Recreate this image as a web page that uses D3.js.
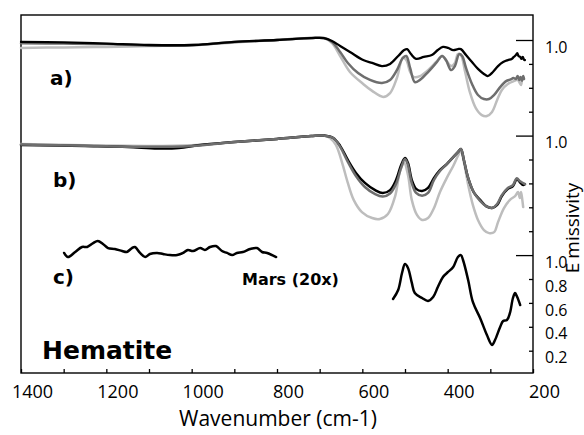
<!DOCTYPE html>
<html><head><meta charset="utf-8">
<script src="https://cdn.jsdelivr.net/npm/d3@7"></script>
<style>body{margin:0;background:#fff}svg{display:block}</style>
</head><body>
<script>
// ---- data: [wavenumber (cm-1), emissivity] ----
const aBlack = [[1400,0.992],[1300,0.990],[1200,0.985],[1100,0.979],[1000,0.979],[950,0.985],[900,0.992],[800,1.0],[720,1.008],[690,1.008],[671,0.996],[652,0.975],[629,0.950],[598,0.916],[577,0.904],[554,0.891],[535,0.900],[516,0.933],[502,0.958],[495,0.962],[486,0.941],[474,0.921],[456,0.929],[437,0.937],[423,0.958],[411,0.971],[399,0.967],[387,0.958],[376,0.962],[369,0.962],[357,0.937],[343,0.908],[329,0.879],[315,0.858],[306,0.849],[294,0.866],[282,0.891],[270,0.908],[259,0.916],[250,0.921],[245,0.929],[240,0.937],[237,0.945],[234,0.933],[230,0.929],[227,0.921],[224,0.929],[221,0.918],[219,0.916]];
const aDark = [[1400,0.986],[1300,0.985],[1200,0.983],[1100,0.977],[1000,0.978],[900,0.992],[800,1.0],[720,1.008],[690,1.008],[671,0.992],[652,0.950],[634,0.904],[610,0.862],[582,0.833],[554,0.820],[535,0.833],[519,0.874],[505,0.925],[497,0.933],[488,0.883],[477,0.824],[465,0.833],[446,0.866],[427,0.904],[413,0.933],[404,0.916],[392,0.874],[383,0.891],[373,0.941],[366,0.933],[357,0.883],[343,0.816],[329,0.770],[315,0.753],[303,0.753],[291,0.770],[277,0.803],[263,0.828],[252,0.835],[246,0.841],[240,0.837],[236,0.849],[232,0.833],[229,0.845],[226,0.829],[223,0.849],[221,0.837]];
const aLight = [[1400,0.967],[1300,0.969],[1200,0.971],[1100,0.975],[1000,0.979],[900,0.990],[800,1.0],[720,1.008],[690,1.008],[671,0.987],[652,0.933],[629,0.866],[598,0.816],[577,0.787],[551,0.762],[535,0.778],[519,0.841],[505,0.925],[497,0.916],[488,0.866],[479,0.845],[465,0.849],[446,0.874],[427,0.908],[413,0.933],[404,0.916],[392,0.891],[383,0.904],[376,0.941],[369,0.937],[359,0.866],[348,0.782],[334,0.715],[320,0.686],[308,0.682],[296,0.699],[284,0.749],[273,0.791],[259,0.816],[245,0.828],[236,0.833],[231,0.820],[228,0.812],[226,0.833]];
const bBlack = [[1400,0.961],[1250,0.956],[1150,0.952],[1080,0.946],[1030,0.948],[980,0.961],[900,0.973],[800,0.986],[720,0.998],[690,1.0],[668,0.990],[652,0.957],[634,0.898],[615,0.844],[594,0.802],[570,0.772],[552,0.760],[535,0.772],[521,0.814],[509,0.877],[500,0.906],[493,0.885],[484,0.814],[474,0.777],[460,0.768],[446,0.781],[432,0.823],[418,0.856],[402,0.881],[387,0.910],[376,0.931],[369,0.944],[362,0.898],[352,0.823],[338,0.760],[324,0.731],[310,0.705],[296,0.697],[284,0.710],[273,0.747],[259,0.777],[247,0.789],[238,0.818],[231,0.806],[223,0.793],[219,0.797]];
const bDark = [[1400,0.963],[1250,0.958],[1100,0.953],[1000,0.957],[900,0.973],[800,0.986],[720,0.998],[690,1.0],[668,0.990],[652,0.953],[634,0.890],[615,0.831],[594,0.785],[570,0.755],[552,0.745],[535,0.758],[521,0.798],[509,0.866],[500,0.902],[493,0.876],[484,0.800],[474,0.760],[460,0.748],[446,0.760],[432,0.815],[418,0.852],[402,0.881],[387,0.910],[376,0.931],[369,0.944],[362,0.898],[352,0.823],[338,0.760],[324,0.727],[310,0.705],[296,0.697],[284,0.714],[273,0.751],[259,0.781],[247,0.793],[238,0.822],[231,0.810],[223,0.801],[219,0.797]];
const bLight = [[1400,0.965],[1250,0.960],[1100,0.957],[1000,0.960],[900,0.973],[800,0.986],[720,0.998],[690,1.0],[676,0.990],[662,0.961],[648,0.890],[634,0.802],[620,0.730],[601,0.680],[577,0.655],[559,0.651],[540,0.672],[523,0.747],[512,0.848],[502,0.885],[493,0.835],[484,0.730],[472,0.668],[460,0.647],[446,0.655],[432,0.697],[418,0.764],[402,0.823],[387,0.873],[376,0.915],[369,0.936],[362,0.890],[352,0.794],[341,0.710],[329,0.647],[315,0.605],[303,0.592],[291,0.596],[282,0.638],[268,0.697],[254,0.731],[242,0.747],[235,0.764],[231,0.739],[228,0.764],[225,0.730],[223,0.701]];
const marsHigh = [[1299,1.018],[1290,0.984],[1273,1.026],[1257,1.068],[1245,1.068],[1231,1.101],[1220,1.118],[1208,1.093],[1196,1.059],[1180,1.051],[1163,1.034],[1152,1.026],[1140,1.059],[1133,1.068],[1121,1.018],[1109,0.984],[1098,1.009],[1081,1.018],[1067,1.009],[1051,1.0],[1034,1.0],[1020,1.018],[1009,1.043],[997,1.034],[980,1.059],[969,1.043],[957,1.068],[943,1.076],[929,1.034],[917,1.018],[905,1.0],[894,1.018],[880,1.026],[863,1.051],[847,1.059],[835,1.026],[823,1.018],[802,0.984]];
const marsLow = [[528,0.633],[516,0.708],[507,0.850],[500,0.925],[493,0.892],[484,0.767],[477,0.683],[460,0.641],[446,0.616],[434,0.649],[423,0.733],[411,0.817],[399,0.859],[387,0.900],[376,0.984],[369,1.0],[364,0.959],[352,0.792],[341,0.608],[324,0.474],[308,0.331],[296,0.248],[289,0.290],[277,0.399],[270,0.449],[261,0.457],[254,0.516],[247,0.641],[242,0.683],[237,0.649],[230,0.582]];
const xTicks = [1400,1300,1200,1100,1000,900,800,700,600,500,400,300,200];
const xLabels = [1400,1200,1000,800,600,400,200];
const aTicks = [1.0,0.9,0.8,0.7];
const bTicks = [1.0,0.9,0.8,0.7,0.6];
const cTicks = [1.0,0.8,0.6,0.4,0.2];
const cLabels = ["1.0","0.8","0.6","0.4","0.2"];

const W = 584, H = 435;
const L = 21, R = 533, T = 15, B = 373;
const svg = d3.select("body").append("svg").attr("width", W).attr("height", H);

const x = d3.scaleLinear().domain([1400, 200]).range([L, R]);
const step = 23.9;
const yA = d3.scaleLinear().domain([1, 0.7]).range([40, 40 + 3 * step]);
const yB = d3.scaleLinear().domain([1, 0.6]).range([40 + 4 * step, 40 + 8 * step]);
const yC = d3.scaleLinear().domain([1, 0.2]).range([40 + 9 * step, 40 + 13 * step]);

const numFont = "'Open Sans', sans-serif";
const boldFont = "'DejaVu Sans', sans-serif";

// frame
svg.append("rect").attr("x", L).attr("y", T).attr("width", R - L).attr("height", B - T)
  .attr("fill", "none").attr("stroke", "#000").attr("stroke-width", 1.4);

// bottom axis
const xAxis = d3.axisBottom(x).tickValues(xTicks).tickSizeInner(-4).tickSizeOuter(0).tickPadding(12)
  .tickFormat(d => xLabels.includes(d) ? String(d) : "");
const gx = svg.append("g").attr("transform", `translate(0,${B})`).call(xAxis);
gx.select(".domain").remove();
gx.selectAll(".tick line").attr("stroke", "#000").attr("stroke-width", 1.3);
gx.selectAll("text").attr("font-family", numFont).attr("font-size", 18).attr("fill", "#000")
  .attr("transform", "translate(11,0)");

// right axes
function rightAxis(scale, ticks, labels) {
  const g = svg.append("g").attr("transform", `translate(${R},0)`);
  const ax = d3.axisRight(scale).tickValues(ticks).tickSizeOuter(0).tickPadding(12)
    .tickSizeInner(-4).tickFormat((d, i) => labels ? labels[i] : "");
  g.call(ax);
  g.select(".domain").remove();
  g.selectAll(".tick line").attr("stroke", "#000").attr("stroke-width", 1.3)
    .attr("x2", d => d === 1 ? -17 : -4);
  g.selectAll("text").attr("font-family", numFont).attr("font-size", 16).attr("fill", "#000")
    .attr("transform", "translate(0,7)");
  return g;
}
rightAxis(yA, aTicks, ["1.0", "", "", ""]);
rightAxis(yB, bTicks, ["1.0", "", "", "", ""]);
rightAxis(yC, cTicks, cLabels);

// lines
function draw(data, yScale, color, width) {
  const line = d3.line().x(d => x(d[0])).y(d => yScale(d[1])).curve(d3.curveCatmullRom.alpha(0.5));
  svg.append("path").datum(data).attr("d", line).attr("fill", "none")
    .attr("stroke", color).attr("stroke-width", width).attr("stroke-linejoin", "round").attr("stroke-linecap", "round");
}
const cLight = "#bdbdbd", cDark = "#6e6e6e", cBlack = "#000";
draw(aLight, yA, cLight, 2.5);
draw(aDark, yA, cDark, 2.5);
draw(aBlack, yA, cBlack, 2.3);
draw(bLight, yB, cLight, 2.5);
draw(bBlack, yB, cBlack, 2.5);
draw(bDark, yB, cDark, 2.5);
draw(marsHigh, yC, cBlack, 2.5);
draw(marsLow, yC, cBlack, 2.5);

// labels
function txt(s, px, py, size, opts = {}) {
  return svg.append("text").attr("x", px).attr("y", py).attr("font-family", opts.family || boldFont)
    .attr("font-weight", opts.weight || "bold").attr("font-size", size).attr("fill", "#000")
    .attr("text-anchor", opts.anchor || "start").text(s);
}
txt("a)", 50, 85, 20);
txt("b)", 53, 187, 20);
txt("c)", 53, 284, 20);
txt("Mars (20x)", 242, 285, 16);
txt("Hematite", 42, 359, 25);
txt("Wavenumber (cm-1)", 278, 426, 21, { family: numFont, weight: "normal", anchor: "middle" });

// y title
const yt = svg.append("text").attr("transform", "translate(579,228) rotate(-90)")
  .attr("text-anchor", "middle").attr("font-family", numFont).attr("font-size", 19).attr("fill", "#000");
yt.append("tspan").text("E");
yt.append("tspan").attr("dx", 4).text("missivity");
</script>
</body></html>
